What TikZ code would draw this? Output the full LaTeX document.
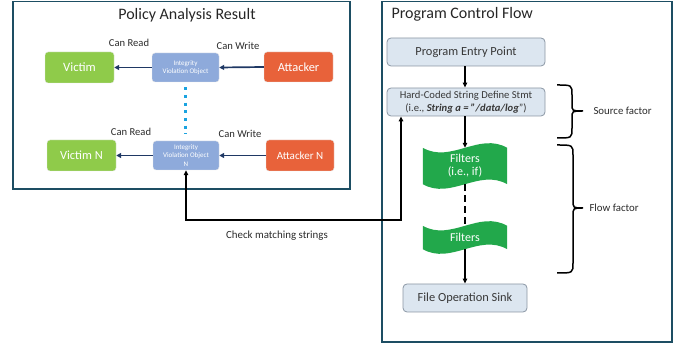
\documentclass[tikz,border=0pt]{standalone}
\usepackage{fontspec}
\setmainfont{Carlito}
\usetikzlibrary{arrows.meta,calc}
\pgfdeclarelayer{background}
\pgfsetlayers{background,main}

\definecolor{panelline}{HTML}{1D4E63}
\definecolor{victimgreen}{HTML}{8FCB4A}
\definecolor{attackred}{HTML}{E8623A}
\definecolor{ivoblue}{HTML}{8EAADB}
\definecolor{filtgreen}{HTML}{22A84B}
\definecolor{stepfill}{HTML}{DCE6F0}
\definecolor{stepline}{HTML}{8A96A3}
\definecolor{navy}{HTML}{1F3864}
\definecolor{dotblue}{HTML}{1AA3E0}
\definecolor{labelgray}{HTML}{2B2B2B}

% Punched-tape outline around a node's rectangle
\newcommand\tapeshape[1]{%
  \begin{pgfonlayer}{background}
  \fill[filtgreen] (#1.north west)
    .. controls ($(#1.north west)!0.333!(#1.north east)+(0,16)$) and ($(#1.north west)!0.667!(#1.north east)+(0,-16)$) .. (#1.north east)
    -- (#1.south east)
    .. controls ($(#1.south west)!0.667!(#1.south east)+(0,-16)$) and ($(#1.south west)!0.333!(#1.south east)+(0,16)$) .. (#1.south west)
    -- cycle;
  \end{pgfonlayer}}

\tikzset{
  panel/.style={draw=panelline, line width=1.8pt},
  titletext/.style={font=\fontsize{16}{18}\selectfont, text=black!85},
  actor/.style={rounded corners=3pt, inner sep=0pt, text=white, draw=white!80!gray, line width=0.4pt},
  victimbox/.style={actor, fill=victimgreen},
  attackbox/.style={actor, fill=attackred},
  ivobox/.style={actor, fill=ivoblue, font=\fontsize{7}{8.3}\selectfont, align=center},
  permlabel/.style={font=\fontsize{10.6}{12}\selectfont, text=labelgray},
  navyarrow/.style={draw=navy, line width=1.7pt, -{Triangle[length=5pt,width=5pt]}},
  stepbox/.style={draw=stepline, fill=stepfill, rounded corners=4pt, line width=0.8pt, inner sep=0pt, text=black!78, align=center},
  tapenode/.style={inner sep=0pt, text=white, align=center, font=\fontsize{12}{13}\selectfont},
  flowarrow/.style={draw=black, line width=1.1pt, -{Triangle[length=5pt,width=4.5pt]}},
  sidelabel/.style={font=\fontsize{10.8}{12}\selectfont, text=labelgray, anchor=west},
  bracepath/.style={draw=black, line width=1.5pt},
}

\begin{document}
\begin{tikzpicture}[x=1pt, y=-1pt]
\useasboundingbox (0,0) rectangle (681,347);

% panels
\draw[panel] (13,1.5) rectangle (350,189);
\draw[panel] (382,1.5) rectangle (672,342);
\node[titletext] (ptitle) at (187,15) {Policy Analysis Result};
\node[titletext, anchor=west] (ctitle) at (388,14) {Program Control Flow};

% policy analysis: first row
\node[victimbox, minimum width=69pt, minimum height=31pt, font=\fontsize{12.7}{14}\selectfont] (vic1) at (79.5,67.5) {Victim};
\node[ivobox, minimum width=67pt, minimum height=29pt] (ivo1) at (185.5,67.5) {Integrity\\Violation Object};
\node[attackbox, minimum width=69pt, minimum height=30pt, font=\fontsize{12.4}{14}\selectfont] (att1) at (298.5,67) {Attacker};
\node[permlabel] (read1) at (129,43) {Can Read};
\node[permlabel] (write1) at (238,46) {Can Write};
\draw[navyarrow] (att1.west) -- (ivo1.east);
\draw[navyarrow] (ivo1.west) -- (vic1.east);

% policy analysis: N-th row
\node[victimbox, minimum width=69pt, minimum height=31pt, font=\fontsize{12.4}{14}\selectfont] (vicN) at (81.5,155.5) {Victim N};
\node[ivobox, minimum width=66pt, minimum height=29pt] (ivoN) at (186,155.5) {Integrity\\Violation Object\\N};
\node[attackbox, minimum width=68pt, minimum height=31pt, font=\fontsize{11}{13}\selectfont] (attN) at (300,155.5) {Attacker N};
\node[permlabel] (readN) at (131,132) {Can Read};
\node[permlabel] (writeN) at (240,134) {Can Write};
\draw[navyarrow] (attN.west) -- (ivoN.east);
\draw[navyarrow] (ivoN.west) -- (vicN.east);

% elided rows
\draw[dotblue, line width=3pt, dash pattern=on 3pt off 4.7pt] ($(ivo1.south)+(0,5)$) -- ($(ivoN.north)+(-0.5,-7)$);

% program control flow
\node[stepbox, minimum width=158pt, minimum height=28pt, font=\fontsize{12.4}{14}\selectfont] (entry) at (466,52) {Program Entry Point};
\node[stepbox, minimum width=158pt, minimum height=28pt, font=\fontsize{10.6}{13}\selectfont] (hc) at (466,102)
  {Hard-Coded String Define Stmt\\(i.e., \textbf{\textit{String a = ”/data/log}}”)};
\node[tapenode, minimum width=84pt, minimum height=36pt] (f1) at (465,166) {Filters\\(i.e., if)};
\node[tapenode, minimum width=84pt, minimum height=23pt] (f2) at (465,237.5) {Filters};
\tapeshape{f1}
\tapeshape{f2}
\node[stepbox, minimum width=124pt, minimum height=28pt, font=\fontsize{12.4}{14}\selectfont] (sink) at (465,298) {File Operation Sink};

\draw[flowarrow] (entry.south -| f1.north) -- (hc.north -| f1.north);
\draw[flowarrow] (hc.south -| f1.north) -- (f1.north);
\draw[black, line width=1.6pt, dash pattern=on 7pt off 4pt] (f1.south) -- (f2.north);
\draw[flowarrow] (f2.south) -- (sink.north);

% string-matching link between the two panels
\coordinate (turn) at (401,220);
\draw[black, line width=1.7pt, {Triangle[length=5pt,width=4.5pt]}-{Triangle[length=5pt,width=4.5pt]}]
  (ivoN.south) |- (turn) -- (turn |- hc.south);
\node[font=\fontsize{10.9}{12}\selectfont, text=labelgray] (match) at (277,236) {Check matching strings};

% factor braces
\draw[bracepath] (557,85) .. controls (572,85) .. (572,95) -- (572,104)
  .. controls (572,111) .. (583,111) .. controls (572,111) .. (572,118)
  -- (572,128) .. controls (572,138) .. (557,138);
\node[sidelabel] (srcf) at (590,111) {Source factor};
\draw[bracepath] (557,145) .. controls (573,145) .. (573,155) -- (573,200)
  .. controls (573,208) .. (583,208) .. controls (573,208) .. (573,216)
  -- (573,263) .. controls (573,273) .. (557,273);
\node[sidelabel] (flowf) at (586,208) {Flow factor};
\end{tikzpicture}
\end{document}
